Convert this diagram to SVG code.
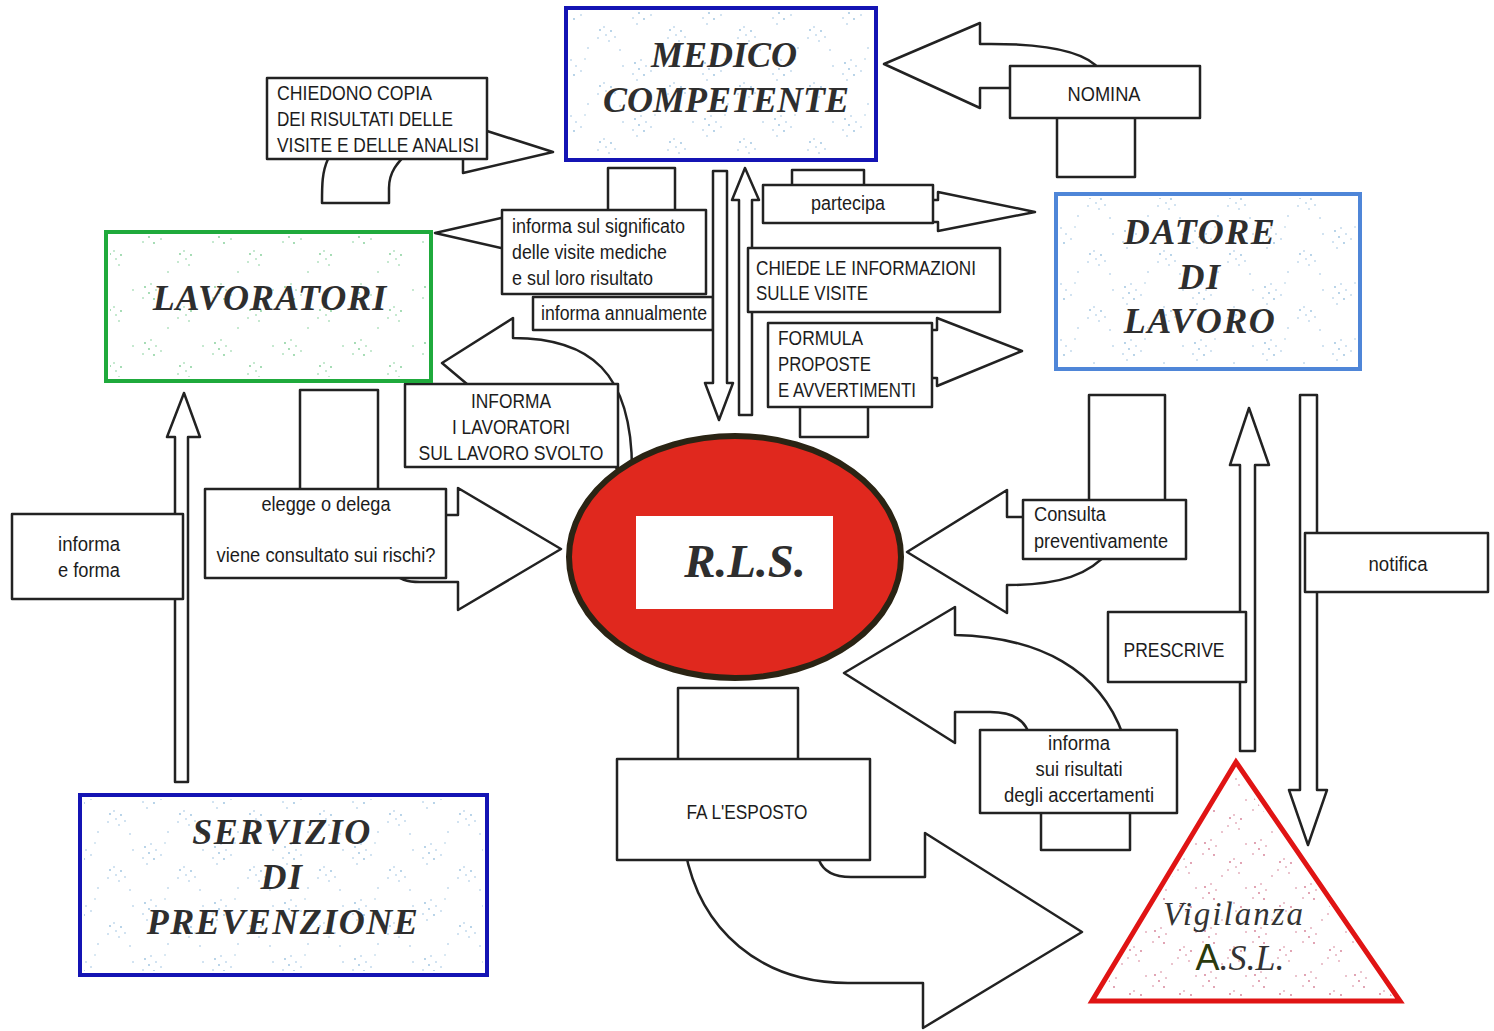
<svg xmlns="http://www.w3.org/2000/svg" width="1494" height="1031" viewBox="0 0 1494 1031">
<style>
.ln{fill:#fff;stroke:#222;stroke-width:2.5;stroke-linejoin:round}
.t{font-family:"Liberation Sans",Arial,sans-serif;font-size:20px;fill:#1c1c1c}
.c{text-anchor:middle}
.ttl{font-family:"Liberation Serif","Times New Roman",serif;font-weight:bold;font-style:italic;fill:#2e2e2e;text-anchor:middle}
</style>
<defs>
<pattern id="spB" width="70" height="56" patternUnits="userSpaceOnUse">
<g fill="#7fb0d6">
<circle cx="5" cy="7" r="0.9"/><circle cx="11" cy="4" r="0.8"/><circle cx="9" cy="13" r="0.9"/><circle cx="16" cy="10" r="0.8"/><circle cx="3" cy="18" r="0.8"/><circle cx="14" cy="19" r="0.9"/><circle cx="21" cy="15" r="0.8"/><circle cx="7" cy="24" r="0.8"/>
<circle cx="40" cy="30" r="0.9"/><circle cx="46" cy="35" r="0.8"/><circle cx="44" cy="27" r="0.8"/><circle cx="51" cy="31" r="0.9"/><circle cx="38" cy="38" r="0.8"/><circle cx="49" cy="41" r="0.8"/><circle cx="55" cy="37" r="0.8"/>
<circle cx="28" cy="48" r="0.8"/><circle cx="63" cy="10" r="0.8"/><circle cx="60" cy="50" r="0.8"/><circle cx="25" cy="3" r="0.7"/>
</g>
</pattern>
<pattern id="spG" width="70" height="56" patternUnits="userSpaceOnUse">
<g fill="#5cbf78">
<circle cx="5" cy="7" r="0.9"/><circle cx="11" cy="4" r="0.8"/><circle cx="9" cy="13" r="0.9"/><circle cx="16" cy="10" r="0.8"/><circle cx="3" cy="18" r="0.8"/><circle cx="14" cy="19" r="0.9"/><circle cx="21" cy="15" r="0.8"/>
<circle cx="40" cy="30" r="0.9"/><circle cx="46" cy="35" r="0.8"/><circle cx="44" cy="27" r="0.8"/><circle cx="51" cy="31" r="0.9"/><circle cx="38" cy="38" r="0.8"/><circle cx="49" cy="41" r="0.8"/>
<circle cx="28" cy="48" r="0.8"/><circle cx="63" cy="10" r="0.8"/>
</g>
</pattern>
<pattern id="spR" width="50" height="44" patternUnits="userSpaceOnUse">
<g fill="#c04060">
<circle cx="5" cy="7" r="0.9"/><circle cx="11" cy="4" r="0.8"/><circle cx="9" cy="13" r="0.9"/><circle cx="16" cy="10" r="0.8"/><circle cx="3" cy="18" r="0.8"/><circle cx="14" cy="19" r="0.9"/>
<circle cx="30" cy="26" r="0.9"/><circle cx="36" cy="31" r="0.8"/><circle cx="34" cy="23" r="0.8"/><circle cx="41" cy="27" r="0.9"/><circle cx="28" cy="34" r="0.8"/><circle cx="39" cy="37" r="0.8"/>
<circle cx="22" cy="40" r="0.8"/><circle cx="46" cy="8" r="0.8"/>
</g>
</pattern>
</defs>
<rect width="1494" height="1031" fill="#fff"/>

<g id="connectors">
<!-- CHIEDONO COPIA -->
<path class="ln" d="M470,131 L487,131 L553,152 L463,173 L463,140 Z"/>
<path class="ln" d="M328,150 L328,159 C322,172 322,185 322,203 L389,203 L389,188 C389,172 397,163 410,150 Z"/>
<rect class="ln" x="267" y="78" width="220" height="81"/>
<text class="t" x="277" y="100" textLength="155" lengthAdjust="spacingAndGlyphs">CHIEDONO COPIA</text>
<text class="t" x="277" y="126" textLength="176" lengthAdjust="spacingAndGlyphs">DEI RISULTATI DELLE</text>
<text class="t" x="277" y="152" textLength="202" lengthAdjust="spacingAndGlyphs">VISITE E DELLE ANALISI</text>

<!-- informa sul significato -->
<rect class="ln" x="608" y="168" width="67" height="46"/>
<polygon class="ln" points="510,216 435,233 510,250"/>
<rect class="ln" x="502" y="210" width="204" height="84"/>
<text class="t" x="512" y="233" textLength="173" lengthAdjust="spacingAndGlyphs">informa sul significato</text>
<text class="t" x="512" y="259" textLength="155" lengthAdjust="spacingAndGlyphs">delle visite mediche</text>
<text class="t" x="512" y="285" textLength="141" lengthAdjust="spacingAndGlyphs">e sul loro risultato</text>

<!-- INFORMA I LAVORATORI (curved) -->
<path class="ln" d="M442,363 L513,318 L513,338 C590,338 632,372 632,470 L632,490 L615,466 L480,395 Z"/>
<rect class="ln" x="533" y="297" width="180" height="33"/>
<text class="t" x="541" y="320" textLength="166" lengthAdjust="spacingAndGlyphs">informa annualmente</text>
<rect class="ln" x="405" y="384" width="213" height="83"/>
<text class="t c" x="511" y="408" textLength="80" lengthAdjust="spacingAndGlyphs">INFORMA</text>
<text class="t c" x="511" y="434" textLength="118" lengthAdjust="spacingAndGlyphs">I LAVORATORI</text>
<text class="t c" x="511" y="460" textLength="185" lengthAdjust="spacingAndGlyphs">SUL LAVORO SVOLTO</text>

<!-- vertical double arrows MEDICO / RLS -->
<polygon class="ln" points="713,171 727,171 727,383 733,383 719,420 705,383 713,383"/>
<polygon class="ln" points="739,415 752,415 752,200 759,200 745,168 732,200 739,200"/>

<!-- partecipa -->
<rect class="ln" x="792" y="170" width="72" height="20"/>
<polygon class="ln" points="928,200 938,200 938,192 1035,212 938,231 938,222 928,222"/>
<rect class="ln" x="763" y="185" width="170" height="38"/>
<text class="t c" x="848" y="210" textLength="74" lengthAdjust="spacingAndGlyphs">partecipa</text>

<!-- CHIEDE LE INFORMAZIONI -->
<rect class="ln" x="748" y="248" width="252" height="64"/>
<text class="t" x="756" y="275" textLength="220" lengthAdjust="spacingAndGlyphs">CHIEDE LE INFORMAZIONI</text>
<text class="t" x="756" y="300" textLength="112" lengthAdjust="spacingAndGlyphs">SULLE VISITE</text>

<!-- FORMULA PROPOSTE -->
<rect class="ln" x="800" y="400" width="68" height="37"/>
<polygon class="ln" points="928,330 937,330 937,318 1022,351 937,386 937,378 928,378"/>
<rect class="ln" x="768" y="323" width="164" height="84"/>
<text class="t" x="778" y="345" textLength="85" lengthAdjust="spacingAndGlyphs">FORMULA</text>
<text class="t" x="778" y="371" textLength="93" lengthAdjust="spacingAndGlyphs">PROPOSTE</text>
<text class="t" x="778" y="397" textLength="138" lengthAdjust="spacingAndGlyphs">E AVVERTIMENTI</text>

<!-- NOMINA -->
<path class="ln" d="M884,64 L980,23 L980,44 C1040,43 1085,50 1100,70 L1020,80 L1012,88 L980,88 L980,108 Z"/>
<rect class="ln" x="1057" y="110" width="78" height="67"/>
<rect class="ln" x="1010" y="66" width="190" height="52"/>
<text class="t c" x="1104" y="101" textLength="73" lengthAdjust="spacingAndGlyphs">NOMINA</text>

<!-- Consulta preventivamente -->
<rect class="ln" x="1089" y="395" width="76" height="110"/>
<path class="ln" d="M907,552 L1007,490 L1007,517 L1030,517 L1110,550 C1090,575 1060,585 1007,585 L1007,613 Z"/>
<rect class="ln" x="1023" y="500" width="163" height="59"/>
<text class="t" x="1034" y="521" textLength="72" lengthAdjust="spacingAndGlyphs">Consulta</text>
<text class="t" x="1034" y="548" textLength="134" lengthAdjust="spacingAndGlyphs">preventivamente</text>

<!-- ASL <-> DATORE -->
<polygon class="ln" points="1240,751 1255,751 1255,465 1269,465 1249,408 1230,465 1240,465"/>
<polygon class="ln" points="1300,395 1317,395 1317,790 1327,790 1308,845 1289,790 1300,790"/>
<rect class="ln" x="1305" y="533" width="183" height="59"/>
<text class="t c" x="1398" y="571" textLength="59" lengthAdjust="spacingAndGlyphs">notifica</text>
<rect class="ln" x="1108" y="612" width="138" height="70"/>
<text class="t c" x="1174" y="657" textLength="101" lengthAdjust="spacingAndGlyphs">PRESCRIVE</text>

<!-- informa sui risultati -->
<path class="ln" d="M844,673 L955,607 L955,635 C1040,637 1100,670 1123,735 L1030,740 C1028,722 1015,712 990,712 L955,712 L955,743 Z"/>
<rect class="ln" x="1041" y="805" width="89" height="45"/>
<rect class="ln" x="980" y="730" width="197" height="83"/>
<text class="t c" x="1079" y="750" textLength="62" lengthAdjust="spacingAndGlyphs">informa</text>
<text class="t c" x="1079" y="776" textLength="87" lengthAdjust="spacingAndGlyphs">sui risultati</text>
<text class="t c" x="1079" y="802" textLength="150" lengthAdjust="spacingAndGlyphs">degli accertamenti</text>

<!-- FA L'ESPOSTO -->
<rect class="ln" x="678" y="688" width="120" height="75"/>
<path class="ln" d="M1082,932 L925,833 L925,877 L851,877 C830,877 822,868 819,860 L685,850 C700,930 760,983 848,983 L923,983 L923,1028 Z"/>
<rect class="ln" x="617" y="759" width="253" height="101"/>
<text class="t c" x="747" y="819" textLength="121" lengthAdjust="spacingAndGlyphs">FA L'ESPOSTO</text>

<!-- elegge o delega -->
<rect class="ln" x="300" y="390" width="78" height="105"/>
<path class="ln" d="M561,549 L458,488 L458,515 L440,515 L430,570 L392,570 C398,580 408,582 420,582 L458,582 L458,610 Z"/>
<rect class="ln" x="205" y="489" width="241" height="89"/>
<text class="t c" x="326" y="511" textLength="129" lengthAdjust="spacingAndGlyphs">elegge o delega</text>
<text class="t c" x="326" y="562" textLength="219" lengthAdjust="spacingAndGlyphs">viene consultato sui rischi?</text>

<!-- SERVIZIO -> LAVORATORI -->
<polygon class="ln" points="175,782 188,782 188,437 200,437 184,393 167,437 175,437"/>
<rect class="ln" x="12" y="514" width="171" height="85"/>
<text class="t c" x="89" y="551" textLength="62" lengthAdjust="spacingAndGlyphs">informa</text>
<text class="t c" x="89" y="577" textLength="62" lengthAdjust="spacingAndGlyphs">e forma</text>
</g>

<g id="medico">
<rect x="566" y="8" width="310" height="152" fill="#fff" stroke="#1414b4" stroke-width="4"/>
<rect x="570" y="12" width="302" height="144" fill="url(#spB)" opacity="0.8"/>
<text class="ttl" x="724" y="67" font-size="36">MEDICO</text>
<text class="ttl" x="726" y="112" font-size="36">COMPETENTE</text>
</g>

<g id="lavoratori">
<rect x="106" y="232" width="325" height="149" fill="#fff" stroke="#1faa3c" stroke-width="4"/>
<rect x="110" y="236" width="317" height="141" fill="url(#spG)" opacity="0.8"/>
<text class="ttl" x="270" y="310" font-size="36" letter-spacing="1">LAVORATORI</text>
</g>

<g id="datore">
<rect x="1056" y="194" width="304" height="175" fill="#fff" stroke="#4f86d8" stroke-width="4"/>
<rect x="1060" y="198" width="296" height="167" fill="url(#spB)" opacity="0.8"/>
<text class="ttl" x="1200" y="244" font-size="36" letter-spacing="1.5">DATORE</text>
<text class="ttl" x="1200" y="289" font-size="36" letter-spacing="1.5">DI</text>
<text class="ttl" x="1200" y="333" font-size="36" letter-spacing="1.5">LAVORO</text>
</g>

<g id="servizio">
<rect x="80" y="795" width="407" height="180" fill="#fff" stroke="#1414b4" stroke-width="4"/>
<rect x="84" y="799" width="399" height="172" fill="url(#spB)" opacity="0.8"/>
<text class="ttl" x="282" y="844" font-size="36" letter-spacing="1.5">SERVIZIO</text>
<text class="ttl" x="282" y="889" font-size="36" letter-spacing="1.5">DI</text>
<text class="ttl" x="283" y="934" font-size="36" letter-spacing="1.5">PREVENZIONE</text>
</g>

<g id="rls">
<ellipse cx="735" cy="557" rx="166" ry="121" fill="#e0281e" stroke="#2a2414" stroke-width="6"/>
<rect x="636" y="516" width="197" height="93" fill="#fff"/>
<text class="ttl" x="745" y="577" font-size="47">R.L.S.</text>
</g>

<g id="asl">
<polygon points="1236,762 1092,1001 1400,1001" fill="#fff" stroke="#e01414" stroke-width="5" stroke-linejoin="miter"/>
<polygon points="1236,772 1100,996 1392,996" fill="url(#spR)" opacity="0.7"/>
<text x="1234" y="925" font-family="Liberation Serif, serif" font-style="italic" font-size="33" letter-spacing="2" fill="#333" text-anchor="middle">Vigilanza</text>
<text x="1240" y="970" font-family="Liberation Serif, serif" font-style="italic" font-size="36" fill="#333" text-anchor="middle"><tspan font-family="Liberation Sans, sans-serif" font-style="normal" fill="#2b3a0c">A</tspan>.S.L.</text>
</g>
</svg>
